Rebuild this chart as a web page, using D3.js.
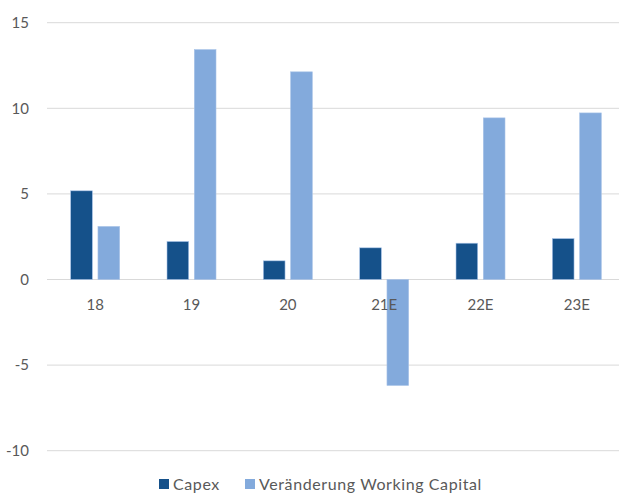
<!DOCTYPE html>
<html>
<head>
<meta charset="utf-8">
<script src="https://cdn.jsdelivr.net/npm/d3@7"></script>
<style>
  body { margin: 0; background: #fff; }
  svg { display: block; font-family: Lato, "Open Sans", sans-serif; }
</style>
</head>
<body>
<div id="chart"></div>
<script>
const categories = ["18", "19", "20", "21E", "22E", "23E"];
const capex = [5.18, 2.22, 1.09, 1.85, 2.12, 2.39];
const workingCapital = [3.1, 13.43, 12.13, -6.19, 9.44, 9.73];
const seriesNames = ["Capex", "Veränderung Working Capital"];
const yTicks = [-10, -5, 0, 5, 10, 15];

const width = 619, height = 493;
const colors = ["#15518a", "#83aadc"];

const svg = d3.select("#chart").append("svg")
  .attr("width", width)
  .attr("height", height);

const x = d3.scaleBand().domain(categories).range([47, 625]);
const y = d3.scaleLinear().domain([-10, 15]).range([450.7, 22.7]);

// gridlines
svg.append("g")
  .selectAll("line")
  .data(yTicks)
  .enter()
  .append("line")
  .attr("x1", 47)
  .attr("x2", 625)
  .attr("y1", d => y(d))
  .attr("y2", d => y(d))
  .attr("stroke", "#d9d9d9")
  .attr("stroke-width", 1);

// y labels
svg.append("g")
  .selectAll("text")
  .data(yTicks)
  .enter()
  .append("text")
  .attr("x", 29)
  .attr("y", d => y(d))
  .attr("dy", "0.35em")
  .attr("text-anchor", "end")
  .attr("fill", "#595959")
  .style("font-size", "15px")
  .text(d => d);

// bars
const barW = 21.7, gap = 5.6;
const series = [capex, workingCapital];
series.forEach((vals, s) => {
  svg.append("g")
    .selectAll("rect")
    .data(vals)
    .enter()
    .append("rect")
    .attr("x", (d, i) => x(categories[i]) + x.bandwidth() / 2 - gap / 2 - barW + s * (barW + gap))
    .attr("y", d => y(Math.max(0, d)))
    .attr("width", barW)
    .attr("height", d => Math.abs(y(d) - y(0)))
    .attr("fill", colors[s])
    .attr("stroke", "#a9c4e8")
    .attr("stroke-width", 0.6);
});

// x labels
svg.append("g")
  .selectAll("text")
  .data(categories)
  .enter()
  .append("text")
  .attr("x", d => x(d) + x.bandwidth() / 2)
  .attr("y", 305)
  .attr("dy", "0.35em")
  .attr("text-anchor", "middle")
  .attr("fill", "#595959")
  .style("font-size", "15px")
  .text(d => d);

// legend
const legendX = [159, 245];
seriesNames.forEach((name, i) => {
  svg.append("rect")
    .attr("x", legendX[i])
    .attr("y", 479)
    .attr("width", 10)
    .attr("height", 10)
    .attr("fill", colors[i]);
  svg.append("text")
    .attr("x", legendX[i] + 14)
    .attr("y", 484)
    .attr("dy", "0.35em")
    .attr("fill", "#595959")
    .style("font-size", "16px")
    .style("letter-spacing", "0.6px")
    .text(name);
});
</script>
</body>
</html>
